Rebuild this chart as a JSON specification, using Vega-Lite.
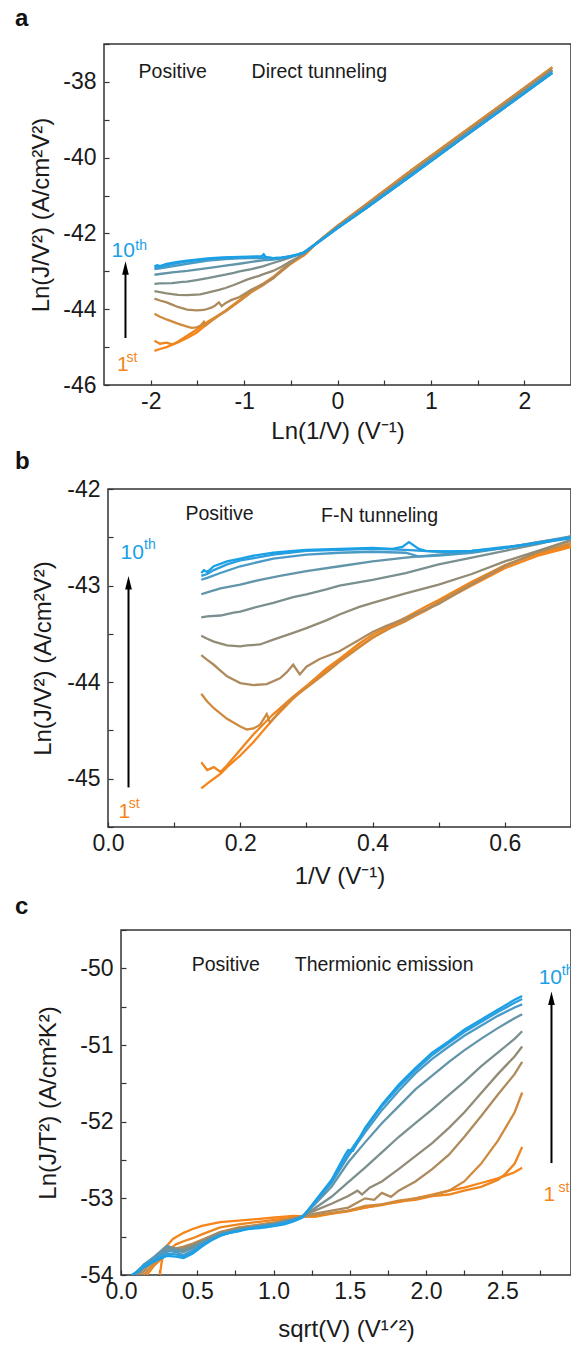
{
"$schema": "https://vega.github.io/schema/vega-lite/v6.json",
"padding": {"left": 13, "top": 6, "right": 0, "bottom": 0},
"config": {
  "font": "Liberation Sans",
  "view": {"stroke": "#333333", "strokeWidth": 1.5},
  "axis": {"grid": false, "domain": false, "ticks": true, "tickSize": -5, "tickWidth": 1.2, "tickColor": "#333333", "labelFontSize": 23, "titleFontSize": 24, "titleFontWeight": "normal", "labelColor": "#1a1a1a", "titleColor": "#1a1a1a", "labelFlush": false, "labelOverlap": false, "labelPadding": 13, "titlePadding": 8},
  "axisX": {"labelPadding": 10, "titlePadding": 6},
  "title": {"fontSize": 24, "fontWeight": "bold", "anchor": "start", "frame": "group", "color": "#111111"},
  "line": {"strokeWidth": 2.3, "clip": true}
},
"datasets": {
"A": [
{"c":1,"x":-1.96,"y":-45.10},{"c":1,"x":-1.90,"y":-45.05},{"c":1,"x":-1.83,"y":-45.00},{"c":1,"x":-1.71,"y":-44.88},{"c":1,"x":-1.61,"y":-44.76},{"c":1,"x":-1.51,"y":-44.62},{"c":1,"x":-1.39,"y":-44.38},{"c":1,"x":-1.27,"y":-44.17},{"c":1,"x":-1.20,"y":-44.05},{"c":1,"x":-1.05,"y":-43.78},{"c":1,"x":-0.92,"y":-43.54},{"c":1,"x":-0.80,"y":-43.36},{"c":1,"x":-0.69,"y":-43.18},{"c":1,"x":-0.60,"y":-43.00},{"c":1,"x":-0.51,"y":-42.82},{"c":1,"x":-0.43,"y":-42.69},{"c":1,"x":-0.36,"y":-42.58},{"c":1,"x":-0.2,"y":-42.2},{"c":1,"x":0,"y":-41.8},{"c":1,"x":0.3,"y":-41.25},{"c":1,"x":0.8,"y":-40.32},{"c":1,"x":1.3,"y":-39.42},{"c":1,"x":1.8,"y":-38.52},{"c":1,"x":2.3,"y":-37.62},
{"c":2,"x":-1.96,"y":-44.83},{"c":2,"x":-1.90,"y":-44.91},{"c":2,"x":-1.83,"y":-44.88},{"c":2,"x":-1.77,"y":-44.93},{"c":2,"x":-1.71,"y":-44.86},{"c":2,"x":-1.61,"y":-44.70},{"c":2,"x":-1.51,"y":-44.54},{"c":2,"x":-1.39,"y":-44.33},{"c":2,"x":-1.27,"y":-44.15},{"c":2,"x":-1.20,"y":-44.04},{"c":2,"x":-1.05,"y":-43.76},{"c":2,"x":-0.92,"y":-43.51},{"c":2,"x":-0.80,"y":-43.33},{"c":2,"x":-0.69,"y":-43.15},{"c":2,"x":-0.60,"y":-42.96},{"c":2,"x":-0.51,"y":-42.79},{"c":2,"x":-0.43,"y":-42.67},{"c":2,"x":-0.36,"y":-42.58},{"c":2,"x":-0.2,"y":-42.2},{"c":2,"x":0,"y":-41.8},{"c":2,"x":0.3,"y":-41.25},{"c":2,"x":0.8,"y":-40.32},{"c":2,"x":1.3,"y":-39.42},{"c":2,"x":1.8,"y":-38.52},{"c":2,"x":2.3,"y":-37.62},
{"c":3,"x":-1.96,"y":-44.12},{"c":3,"x":-1.90,"y":-44.20},{"c":3,"x":-1.83,"y":-44.27},{"c":3,"x":-1.71,"y":-44.38},{"c":3,"x":-1.61,"y":-44.46},{"c":3,"x":-1.56,"y":-44.49},{"c":3,"x":-1.51,"y":-44.48},{"c":3,"x":-1.47,"y":-44.44},{"c":3,"x":-1.43,"y":-44.33},{"c":3,"x":-1.41,"y":-44.42},{"c":3,"x":-1.35,"y":-44.30},{"c":3,"x":-1.27,"y":-44.16},{"c":3,"x":-1.20,"y":-44.06},{"c":3,"x":-1.11,"y":-43.90},{"c":3,"x":-1.05,"y":-43.79},{"c":3,"x":-0.97,"y":-43.64},{"c":3,"x":-0.92,"y":-43.54},{"c":3,"x":-0.84,"y":-43.43},{"c":3,"x":-0.80,"y":-43.37},{"c":3,"x":-0.69,"y":-43.17},{"c":3,"x":-0.60,"y":-42.98},{"c":3,"x":-0.51,"y":-42.79},{"c":3,"x":-0.43,"y":-42.66},{"c":3,"x":-0.36,"y":-42.56},{"c":3,"x":-0.2,"y":-42.2},{"c":3,"x":0,"y":-41.8},{"c":3,"x":0.3,"y":-41.25},{"c":3,"x":0.8,"y":-40.32},{"c":3,"x":1.3,"y":-39.42},{"c":3,"x":1.8,"y":-38.52},{"c":3,"x":2.3,"y":-37.62},
{"c":4,"x":-1.96,"y":-43.72},{"c":4,"x":-1.90,"y":-43.77},{"c":4,"x":-1.83,"y":-43.82},{"c":4,"x":-1.77,"y":-43.88},{"c":4,"x":-1.71,"y":-43.94},{"c":4,"x":-1.61,"y":-44.01},{"c":4,"x":-1.51,"y":-44.03},{"c":4,"x":-1.43,"y":-44.02},{"c":4,"x":-1.35,"y":-43.96},{"c":4,"x":-1.31,"y":-43.90},{"c":4,"x":-1.27,"y":-43.82},{"c":4,"x":-1.24,"y":-43.92},{"c":4,"x":-1.20,"y":-43.84},{"c":4,"x":-1.14,"y":-43.76},{"c":4,"x":-1.05,"y":-43.68},{"c":4,"x":-0.97,"y":-43.56},{"c":4,"x":-0.92,"y":-43.48},{"c":4,"x":-0.87,"y":-43.42},{"c":4,"x":-0.80,"y":-43.34},{"c":4,"x":-0.69,"y":-43.19},{"c":4,"x":-0.60,"y":-42.99},{"c":4,"x":-0.51,"y":-42.80},{"c":4,"x":-0.43,"y":-42.65},{"c":4,"x":-0.36,"y":-42.53},{"c":4,"x":-0.2,"y":-42.21},{"c":4,"x":0,"y":-41.83},{"c":4,"x":0.3,"y":-41.3},{"c":4,"x":0.8,"y":-40.39},{"c":4,"x":1.3,"y":-39.49},{"c":4,"x":1.8,"y":-38.59},{"c":4,"x":2.3,"y":-37.69},
{"c":5,"x":-1.96,"y":-43.52},{"c":5,"x":-1.90,"y":-43.55},{"c":5,"x":-1.83,"y":-43.58},{"c":5,"x":-1.71,"y":-43.62},{"c":5,"x":-1.61,"y":-43.63},{"c":5,"x":-1.56,"y":-43.62},{"c":5,"x":-1.47,"y":-43.61},{"c":5,"x":-1.39,"y":-43.56},{"c":5,"x":-1.27,"y":-43.49},{"c":5,"x":-1.20,"y":-43.44},{"c":5,"x":-1.11,"y":-43.36},{"c":5,"x":-1.05,"y":-43.30},{"c":5,"x":-0.97,"y":-43.22},{"c":5,"x":-0.92,"y":-43.18},{"c":5,"x":-0.84,"y":-43.12},{"c":5,"x":-0.80,"y":-43.08},{"c":5,"x":-0.69,"y":-42.99},{"c":5,"x":-0.60,"y":-42.88},{"c":5,"x":-0.51,"y":-42.75},{"c":5,"x":-0.43,"y":-42.64},{"c":5,"x":-0.36,"y":-42.53},{"c":5,"x":-0.2,"y":-42.21},{"c":5,"x":0,"y":-41.83},{"c":5,"x":0.3,"y":-41.3},{"c":5,"x":0.8,"y":-40.39},{"c":5,"x":1.3,"y":-39.49},{"c":5,"x":1.8,"y":-38.59},{"c":5,"x":2.3,"y":-37.69},
{"c":6,"x":-1.96,"y":-43.33},{"c":6,"x":-1.90,"y":-43.32},{"c":6,"x":-1.77,"y":-43.31},{"c":6,"x":-1.66,"y":-43.28},{"c":6,"x":-1.61,"y":-43.27},{"c":6,"x":-1.51,"y":-43.23},{"c":6,"x":-1.39,"y":-43.18},{"c":6,"x":-1.27,"y":-43.12},{"c":6,"x":-1.20,"y":-43.09},{"c":6,"x":-1.11,"y":-43.04},{"c":6,"x":-1.05,"y":-43.00},{"c":6,"x":-0.92,"y":-42.94},{"c":6,"x":-0.80,"y":-42.87},{"c":6,"x":-0.69,"y":-42.78},{"c":6,"x":-0.60,"y":-42.71},{"c":6,"x":-0.51,"y":-42.64},{"c":6,"x":-0.43,"y":-42.57},{"c":6,"x":-0.36,"y":-42.50},{"c":6,"x":-0.2,"y":-42.21},{"c":6,"x":0,"y":-41.83},{"c":6,"x":0.3,"y":-41.3},{"c":6,"x":0.8,"y":-40.39},{"c":6,"x":1.3,"y":-39.49},{"c":6,"x":1.8,"y":-38.59},{"c":6,"x":2.3,"y":-37.69},
{"c":7,"x":-1.96,"y":-43.09},{"c":7,"x":-1.90,"y":-43.07},{"c":7,"x":-1.77,"y":-43.03},{"c":7,"x":-1.61,"y":-42.99},{"c":7,"x":-1.47,"y":-42.94},{"c":7,"x":-1.35,"y":-42.90},{"c":7,"x":-1.20,"y":-42.85},{"c":7,"x":-1.05,"y":-42.80},{"c":7,"x":-0.92,"y":-42.75},{"c":7,"x":-0.80,"y":-42.71},{"c":7,"x":-0.69,"y":-42.68},{"c":7,"x":-0.60,"y":-42.65},{"c":7,"x":-0.51,"y":-42.61},{"c":7,"x":-0.43,"y":-42.56},{"c":7,"x":-0.36,"y":-42.51},{"c":7,"x":-0.2,"y":-42.22},{"c":7,"x":0,"y":-41.86},{"c":7,"x":0.3,"y":-41.34},{"c":7,"x":0.8,"y":-40.45},{"c":7,"x":1.3,"y":-39.55},{"c":7,"x":1.8,"y":-38.66},{"c":7,"x":2.3,"y":-37.76},
{"c":8,"x":-1.96,"y":-42.94},{"c":8,"x":-1.90,"y":-42.92},{"c":8,"x":-1.77,"y":-42.87},{"c":8,"x":-1.61,"y":-42.80},{"c":8,"x":-1.39,"y":-42.72},{"c":8,"x":-1.20,"y":-42.68},{"c":8,"x":-1.05,"y":-42.66},{"c":8,"x":-0.92,"y":-42.65},{"c":8,"x":-0.80,"y":-42.66},{"c":8,"x":-0.76,"y":-42.70},{"c":8,"x":-0.69,"y":-42.69},{"c":8,"x":-0.60,"y":-42.66},{"c":8,"x":-0.51,"y":-42.61},{"c":8,"x":-0.43,"y":-42.56},{"c":8,"x":-0.36,"y":-42.51},{"c":8,"x":-0.2,"y":-42.22},{"c":8,"x":0,"y":-41.86},{"c":8,"x":0.3,"y":-41.34},{"c":8,"x":0.8,"y":-40.45},{"c":8,"x":1.3,"y":-39.55},{"c":8,"x":1.8,"y":-38.66},{"c":8,"x":2.3,"y":-37.76},
{"c":9,"x":-1.96,"y":-42.90},{"c":9,"x":-1.90,"y":-42.88},{"c":9,"x":-1.83,"y":-42.84},{"c":9,"x":-1.71,"y":-42.78},{"c":9,"x":-1.61,"y":-42.74},{"c":9,"x":-1.39,"y":-42.68},{"c":9,"x":-1.20,"y":-42.64},{"c":9,"x":-1.05,"y":-42.63},{"c":9,"x":-0.92,"y":-42.62},{"c":9,"x":-0.80,"y":-42.63},{"c":9,"x":-0.69,"y":-42.65},{"c":9,"x":-0.60,"y":-42.64},{"c":9,"x":-0.51,"y":-42.60},{"c":9,"x":-0.43,"y":-42.56},{"c":9,"x":-0.36,"y":-42.51},{"c":9,"x":-0.2,"y":-42.22},{"c":9,"x":0,"y":-41.86},{"c":9,"x":0.3,"y":-41.34},{"c":9,"x":0.8,"y":-40.45},{"c":9,"x":1.3,"y":-39.55},{"c":9,"x":1.8,"y":-38.66},{"c":9,"x":2.3,"y":-37.76},
{"c":10,"x":-1.96,"y":-42.87},{"c":10,"x":-1.93,"y":-42.84},{"c":10,"x":-1.90,"y":-42.86},{"c":10,"x":-1.83,"y":-42.80},{"c":10,"x":-1.71,"y":-42.75},{"c":10,"x":-1.61,"y":-42.72},{"c":10,"x":-1.51,"y":-42.69},{"c":10,"x":-1.39,"y":-42.66},{"c":10,"x":-1.27,"y":-42.64},{"c":10,"x":-1.20,"y":-42.63},{"c":10,"x":-1.05,"y":-42.62},{"c":10,"x":-0.92,"y":-42.61},{"c":10,"x":-0.81,"y":-42.60},{"c":10,"x":-0.79,"y":-42.55},{"c":10,"x":-0.77,"y":-42.62},{"c":10,"x":-0.69,"y":-42.65},{"c":10,"x":-0.60,"y":-42.64},{"c":10,"x":-0.51,"y":-42.61},{"c":10,"x":-0.43,"y":-42.56},{"c":10,"x":-0.36,"y":-42.50},{"c":10,"x":-0.2,"y":-42.22},{"c":10,"x":0,"y":-41.86},{"c":10,"x":0.3,"y":-41.34},{"c":10,"x":0.8,"y":-40.45},{"c":10,"x":1.3,"y":-39.55},{"c":10,"x":1.8,"y":-38.66},{"c":10,"x":2.3,"y":-37.76}
],
"B": [
{"c":1,"x":0.141,"y":-45.10},{"c":1,"x":0.15,"y":-45.05},{"c":1,"x":0.16,"y":-45.00},{"c":1,"x":0.17,"y":-44.95},{"c":1,"x":0.18,"y":-44.88},{"c":1,"x":0.2,"y":-44.76},{"c":1,"x":0.22,"y":-44.62},{"c":1,"x":0.25,"y":-44.38},{"c":1,"x":0.28,"y":-44.17},{"c":1,"x":0.3,"y":-44.05},{"c":1,"x":0.33,"y":-43.88},{"c":1,"x":0.35,"y":-43.78},{"c":1,"x":0.38,"y":-43.63},{"c":1,"x":0.4,"y":-43.54},{"c":1,"x":0.43,"y":-43.42},{"c":1,"x":0.45,"y":-43.36},{"c":1,"x":0.48,"y":-43.26},{"c":1,"x":0.5,"y":-43.18},{"c":1,"x":0.55,"y":-43.00},{"c":1,"x":0.6,"y":-42.82},{"c":1,"x":0.65,"y":-42.69},{"c":1,"x":0.7,"y":-42.60},
{"c":2,"x":0.141,"y":-44.83},{"c":2,"x":0.15,"y":-44.91},{"c":2,"x":0.16,"y":-44.88},{"c":2,"x":0.17,"y":-44.93},{"c":2,"x":0.18,"y":-44.86},{"c":2,"x":0.19,"y":-44.78},{"c":2,"x":0.2,"y":-44.70},{"c":2,"x":0.22,"y":-44.54},{"c":2,"x":0.25,"y":-44.33},{"c":2,"x":0.28,"y":-44.15},{"c":2,"x":0.3,"y":-44.04},{"c":2,"x":0.33,"y":-43.86},{"c":2,"x":0.35,"y":-43.76},{"c":2,"x":0.38,"y":-43.60},{"c":2,"x":0.4,"y":-43.51},{"c":2,"x":0.43,"y":-43.40},{"c":2,"x":0.45,"y":-43.33},{"c":2,"x":0.48,"y":-43.22},{"c":2,"x":0.5,"y":-43.15},{"c":2,"x":0.55,"y":-42.96},{"c":2,"x":0.6,"y":-42.79},{"c":2,"x":0.65,"y":-42.67},{"c":2,"x":0.7,"y":-42.58},
{"c":3,"x":0.141,"y":-44.12},{"c":3,"x":0.15,"y":-44.20},{"c":3,"x":0.16,"y":-44.27},{"c":3,"x":0.18,"y":-44.38},{"c":3,"x":0.2,"y":-44.46},{"c":3,"x":0.21,"y":-44.49},{"c":3,"x":0.22,"y":-44.48},{"c":3,"x":0.23,"y":-44.44},{"c":3,"x":0.24,"y":-44.33},{"c":3,"x":0.245,"y":-44.42},{"c":3,"x":0.26,"y":-44.30},{"c":3,"x":0.28,"y":-44.16},{"c":3,"x":0.3,"y":-44.06},{"c":3,"x":0.33,"y":-43.90},{"c":3,"x":0.35,"y":-43.79},{"c":3,"x":0.38,"y":-43.64},{"c":3,"x":0.4,"y":-43.54},{"c":3,"x":0.43,"y":-43.43},{"c":3,"x":0.45,"y":-43.37},{"c":3,"x":0.5,"y":-43.17},{"c":3,"x":0.55,"y":-42.98},{"c":3,"x":0.6,"y":-42.79},{"c":3,"x":0.65,"y":-42.66},{"c":3,"x":0.7,"y":-42.56},
{"c":4,"x":0.141,"y":-43.72},{"c":4,"x":0.15,"y":-43.77},{"c":4,"x":0.16,"y":-43.82},{"c":4,"x":0.17,"y":-43.88},{"c":4,"x":0.18,"y":-43.94},{"c":4,"x":0.2,"y":-44.01},{"c":4,"x":0.22,"y":-44.03},{"c":4,"x":0.24,"y":-44.02},{"c":4,"x":0.26,"y":-43.96},{"c":4,"x":0.27,"y":-43.90},{"c":4,"x":0.28,"y":-43.82},{"c":4,"x":0.29,"y":-43.92},{"c":4,"x":0.3,"y":-43.84},{"c":4,"x":0.32,"y":-43.76},{"c":4,"x":0.35,"y":-43.68},{"c":4,"x":0.38,"y":-43.56},{"c":4,"x":0.4,"y":-43.48},{"c":4,"x":0.42,"y":-43.42},{"c":4,"x":0.45,"y":-43.34},{"c":4,"x":0.5,"y":-43.19},{"c":4,"x":0.55,"y":-42.99},{"c":4,"x":0.6,"y":-42.80},{"c":4,"x":0.65,"y":-42.65},{"c":4,"x":0.7,"y":-42.53},
{"c":5,"x":0.141,"y":-43.52},{"c":5,"x":0.15,"y":-43.55},{"c":5,"x":0.16,"y":-43.58},{"c":5,"x":0.18,"y":-43.62},{"c":5,"x":0.2,"y":-43.63},{"c":5,"x":0.21,"y":-43.62},{"c":5,"x":0.23,"y":-43.61},{"c":5,"x":0.25,"y":-43.56},{"c":5,"x":0.28,"y":-43.49},{"c":5,"x":0.3,"y":-43.44},{"c":5,"x":0.33,"y":-43.36},{"c":5,"x":0.35,"y":-43.30},{"c":5,"x":0.38,"y":-43.22},{"c":5,"x":0.4,"y":-43.18},{"c":5,"x":0.43,"y":-43.12},{"c":5,"x":0.45,"y":-43.08},{"c":5,"x":0.5,"y":-42.99},{"c":5,"x":0.55,"y":-42.88},{"c":5,"x":0.6,"y":-42.75},{"c":5,"x":0.65,"y":-42.64},{"c":5,"x":0.7,"y":-42.53},
{"c":6,"x":0.141,"y":-43.33},{"c":6,"x":0.15,"y":-43.32},{"c":6,"x":0.17,"y":-43.31},{"c":6,"x":0.19,"y":-43.28},{"c":6,"x":0.2,"y":-43.27},{"c":6,"x":0.22,"y":-43.23},{"c":6,"x":0.25,"y":-43.18},{"c":6,"x":0.28,"y":-43.12},{"c":6,"x":0.3,"y":-43.09},{"c":6,"x":0.33,"y":-43.04},{"c":6,"x":0.35,"y":-43.00},{"c":6,"x":0.4,"y":-42.94},{"c":6,"x":0.45,"y":-42.87},{"c":6,"x":0.5,"y":-42.78},{"c":6,"x":0.55,"y":-42.71},{"c":6,"x":0.6,"y":-42.64},{"c":6,"x":0.65,"y":-42.57},{"c":6,"x":0.7,"y":-42.49},
{"c":7,"x":0.141,"y":-43.09},{"c":7,"x":0.15,"y":-43.07},{"c":7,"x":0.17,"y":-43.03},{"c":7,"x":0.2,"y":-42.99},{"c":7,"x":0.23,"y":-42.94},{"c":7,"x":0.26,"y":-42.90},{"c":7,"x":0.3,"y":-42.85},{"c":7,"x":0.35,"y":-42.80},{"c":7,"x":0.4,"y":-42.75},{"c":7,"x":0.45,"y":-42.71},{"c":7,"x":0.5,"y":-42.68},{"c":7,"x":0.55,"y":-42.65},{"c":7,"x":0.6,"y":-42.61},{"c":7,"x":0.65,"y":-42.55},{"c":7,"x":0.7,"y":-42.49},
{"c":8,"x":0.141,"y":-42.94},{"c":8,"x":0.15,"y":-42.92},{"c":8,"x":0.17,"y":-42.87},{"c":8,"x":0.2,"y":-42.80},{"c":8,"x":0.25,"y":-42.72},{"c":8,"x":0.3,"y":-42.68},{"c":8,"x":0.35,"y":-42.66},{"c":8,"x":0.4,"y":-42.65},{"c":8,"x":0.45,"y":-42.66},{"c":8,"x":0.47,"y":-42.70},{"c":8,"x":0.5,"y":-42.69},{"c":8,"x":0.55,"y":-42.66},{"c":8,"x":0.6,"y":-42.61},{"c":8,"x":0.65,"y":-42.55},{"c":8,"x":0.7,"y":-42.50},
{"c":9,"x":0.141,"y":-42.90},{"c":9,"x":0.15,"y":-42.88},{"c":9,"x":0.16,"y":-42.84},{"c":9,"x":0.18,"y":-42.78},{"c":9,"x":0.2,"y":-42.74},{"c":9,"x":0.25,"y":-42.68},{"c":9,"x":0.3,"y":-42.64},{"c":9,"x":0.35,"y":-42.63},{"c":9,"x":0.4,"y":-42.62},{"c":9,"x":0.45,"y":-42.63},{"c":9,"x":0.5,"y":-42.65},{"c":9,"x":0.55,"y":-42.64},{"c":9,"x":0.6,"y":-42.60},{"c":9,"x":0.65,"y":-42.56},{"c":9,"x":0.7,"y":-42.51},
{"c":10,"x":0.141,"y":-42.87},{"c":10,"x":0.145,"y":-42.84},{"c":10,"x":0.15,"y":-42.86},{"c":10,"x":0.16,"y":-42.80},{"c":10,"x":0.18,"y":-42.75},{"c":10,"x":0.2,"y":-42.72},{"c":10,"x":0.22,"y":-42.69},{"c":10,"x":0.25,"y":-42.66},{"c":10,"x":0.28,"y":-42.64},{"c":10,"x":0.3,"y":-42.63},{"c":10,"x":0.35,"y":-42.62},{"c":10,"x":0.4,"y":-42.61},{"c":10,"x":0.43,"y":-42.62},{"c":10,"x":0.445,"y":-42.60},{"c":10,"x":0.455,"y":-42.55},{"c":10,"x":0.47,"y":-42.62},{"c":10,"x":0.48,"y":-42.64},{"c":10,"x":0.52,"y":-42.65},{"c":10,"x":0.55,"y":-42.64},{"c":10,"x":0.6,"y":-42.61},{"c":10,"x":0.65,"y":-42.56},{"c":10,"x":0.7,"y":-42.50}
],
"C": [
{"c":1,"x":0.255,"y":-54.0},{"c":1,"x":0.265,"y":-53.85},{"c":1,"x":0.28,"y":-53.7},{"c":1,"x":0.3,"y":-53.62},{"c":1,"x":0.34,"y":-53.53},{"c":1,"x":0.41,"y":-53.45},{"c":1,"x":0.47,"y":-53.4},{"c":1,"x":0.53,"y":-53.36},{"c":1,"x":0.65,"y":-53.31},{"c":1,"x":0.77,"y":-53.29},{"c":1,"x":0.89,"y":-53.27},{"c":1,"x":1.01,"y":-53.25},{"c":1,"x":1.13,"y":-53.23},{"c":1,"x":1.27,"y":-53.24},{"c":1,"x":1.38,"y":-53.2},{"c":1,"x":1.49,"y":-53.16},{"c":1,"x":1.6,"y":-53.12},{"c":1,"x":1.71,"y":-53.08},{"c":1,"x":1.82,"y":-53.05},{"c":1,"x":1.93,"y":-53.0},{"c":1,"x":2.04,"y":-52.95},{"c":1,"x":2.15,"y":-52.9},{"c":1,"x":2.25,"y":-52.86},{"c":1,"x":2.36,"y":-52.8},{"c":1,"x":2.47,"y":-52.74},{"c":1,"x":2.58,"y":-52.66},{"c":1,"x":2.63,"y":-52.6},
{"c":2,"x":0.17,"y":-54.0},{"c":2,"x":0.22,"y":-53.87},{"c":2,"x":0.27,"y":-53.78},{"c":2,"x":0.31,"y":-53.68},{"c":2,"x":0.36,"y":-53.6},{"c":2,"x":0.41,"y":-53.56},{"c":2,"x":0.47,"y":-53.52},{"c":2,"x":0.53,"y":-53.47},{"c":2,"x":0.65,"y":-53.38},{"c":2,"x":0.77,"y":-53.34},{"c":2,"x":0.89,"y":-53.31},{"c":2,"x":1.01,"y":-53.28},{"c":2,"x":1.13,"y":-53.25},{"c":2,"x":1.27,"y":-53.23},{"c":2,"x":1.38,"y":-53.2},{"c":2,"x":1.49,"y":-53.17},{"c":2,"x":1.6,"y":-53.12},{"c":2,"x":1.71,"y":-53.09},{"c":2,"x":1.82,"y":-53.04},{"c":2,"x":1.93,"y":-53.02},{"c":2,"x":2.04,"y":-52.97},{"c":2,"x":2.15,"y":-52.95},{"c":2,"x":2.25,"y":-52.9},{"c":2,"x":2.36,"y":-52.85},{"c":2,"x":2.47,"y":-52.76},{"c":2,"x":2.52,"y":-52.68},{"c":2,"x":2.58,"y":-52.55},{"c":2,"x":2.63,"y":-52.33},
{"c":3,"x":0.15,"y":-54.0},{"c":3,"x":0.2,"y":-53.88},{"c":3,"x":0.25,"y":-53.79},{"c":3,"x":0.3,"y":-53.7},{"c":3,"x":0.36,"y":-53.66},{"c":3,"x":0.41,"y":-53.63},{"c":3,"x":0.47,"y":-53.59},{"c":3,"x":0.53,"y":-53.54},{"c":3,"x":0.65,"y":-53.44},{"c":3,"x":0.77,"y":-53.38},{"c":3,"x":0.89,"y":-53.35},{"c":3,"x":1.01,"y":-53.31},{"c":3,"x":1.13,"y":-53.26},{"c":3,"x":1.27,"y":-53.22},{"c":3,"x":1.38,"y":-53.19},{"c":3,"x":1.49,"y":-53.16},{"c":3,"x":1.6,"y":-53.1},{"c":3,"x":1.71,"y":-53.08},{"c":3,"x":1.82,"y":-53.03},{"c":3,"x":1.93,"y":-53.0},{"c":3,"x":2.04,"y":-52.96},{"c":3,"x":2.15,"y":-52.9},{"c":3,"x":2.25,"y":-52.78},{"c":3,"x":2.36,"y":-52.55},{"c":3,"x":2.47,"y":-52.25},{"c":3,"x":2.58,"y":-51.88},{"c":3,"x":2.63,"y":-51.62},
{"c":4,"x":0.13,"y":-54.0},{"c":4,"x":0.18,"y":-53.88},{"c":4,"x":0.24,"y":-53.77},{"c":4,"x":0.3,"y":-53.68},{"c":4,"x":0.36,"y":-53.65},{"c":4,"x":0.41,"y":-53.64},{"c":4,"x":0.47,"y":-53.6},{"c":4,"x":0.53,"y":-53.55},{"c":4,"x":0.65,"y":-53.44},{"c":4,"x":0.77,"y":-53.39},{"c":4,"x":0.89,"y":-53.35},{"c":4,"x":1.01,"y":-53.32},{"c":4,"x":1.13,"y":-53.27},{"c":4,"x":1.27,"y":-53.2},{"c":4,"x":1.38,"y":-53.16},{"c":4,"x":1.49,"y":-53.12},{"c":4,"x":1.6,"y":-53.0},{"c":4,"x":1.66,"y":-53.02},{"c":4,"x":1.71,"y":-52.93},{"c":4,"x":1.77,"y":-52.98},{"c":4,"x":1.82,"y":-52.9},{"c":4,"x":1.93,"y":-52.78},{"c":4,"x":2.04,"y":-52.62},{"c":4,"x":2.15,"y":-52.43},{"c":4,"x":2.25,"y":-52.2},{"c":4,"x":2.36,"y":-51.93},{"c":4,"x":2.47,"y":-51.65},{"c":4,"x":2.58,"y":-51.38},{"c":4,"x":2.63,"y":-51.22},
{"c":5,"x":0.11,"y":-54.0},{"c":5,"x":0.17,"y":-53.86},{"c":5,"x":0.23,"y":-53.76},{"c":5,"x":0.3,"y":-53.65},{"c":5,"x":0.36,"y":-53.66},{"c":5,"x":0.41,"y":-53.66},{"c":5,"x":0.47,"y":-53.61},{"c":5,"x":0.53,"y":-53.56},{"c":5,"x":0.65,"y":-53.45},{"c":5,"x":0.77,"y":-53.4},{"c":5,"x":0.89,"y":-53.36},{"c":5,"x":1.01,"y":-53.33},{"c":5,"x":1.13,"y":-53.27},{"c":5,"x":1.19,"y":-53.23},{"c":5,"x":1.27,"y":-53.16},{"c":5,"x":1.38,"y":-53.07},{"c":5,"x":1.49,"y":-52.97},{"c":5,"x":1.55,"y":-52.9},{"c":5,"x":1.58,"y":-52.95},{"c":5,"x":1.63,"y":-52.86},{"c":5,"x":1.71,"y":-52.78},{"c":5,"x":1.82,"y":-52.62},{"c":5,"x":1.93,"y":-52.45},{"c":5,"x":2.04,"y":-52.28},{"c":5,"x":2.15,"y":-52.08},{"c":5,"x":2.25,"y":-51.88},{"c":5,"x":2.36,"y":-51.63},{"c":5,"x":2.47,"y":-51.38},{"c":5,"x":2.58,"y":-51.15},{"c":5,"x":2.63,"y":-51.02},
{"c":6,"x":0.1,"y":-54.0},{"c":6,"x":0.16,"y":-53.86},{"c":6,"x":0.22,"y":-53.76},{"c":6,"x":0.3,"y":-53.62},{"c":6,"x":0.36,"y":-53.66},{"c":6,"x":0.41,"y":-53.68},{"c":6,"x":0.47,"y":-53.63},{"c":6,"x":0.53,"y":-53.57},{"c":6,"x":0.65,"y":-53.46},{"c":6,"x":0.77,"y":-53.41},{"c":6,"x":0.89,"y":-53.37},{"c":6,"x":1.01,"y":-53.33},{"c":6,"x":1.13,"y":-53.27},{"c":6,"x":1.19,"y":-53.23},{"c":6,"x":1.27,"y":-53.13},{"c":6,"x":1.38,"y":-52.98},{"c":6,"x":1.49,"y":-52.79},{"c":6,"x":1.6,"y":-52.6},{"c":6,"x":1.71,"y":-52.4},{"c":6,"x":1.82,"y":-52.2},{"c":6,"x":1.93,"y":-52.02},{"c":6,"x":2.04,"y":-51.84},{"c":6,"x":2.15,"y":-51.65},{"c":6,"x":2.25,"y":-51.48},{"c":6,"x":2.36,"y":-51.28},{"c":6,"x":2.47,"y":-51.1},{"c":6,"x":2.58,"y":-50.92},{"c":6,"x":2.63,"y":-50.82},
{"c":7,"x":0.09,"y":-54.0},{"c":7,"x":0.15,"y":-53.86},{"c":7,"x":0.22,"y":-53.76},{"c":7,"x":0.3,"y":-53.63},{"c":7,"x":0.36,"y":-53.68},{"c":7,"x":0.41,"y":-53.7},{"c":7,"x":0.47,"y":-53.65},{"c":7,"x":0.53,"y":-53.58},{"c":7,"x":0.65,"y":-53.47},{"c":7,"x":0.77,"y":-53.41},{"c":7,"x":0.89,"y":-53.37},{"c":7,"x":1.01,"y":-53.34},{"c":7,"x":1.13,"y":-53.28},{"c":7,"x":1.19,"y":-53.23},{"c":7,"x":1.27,"y":-53.08},{"c":7,"x":1.38,"y":-52.85},{"c":7,"x":1.49,"y":-52.53},{"c":7,"x":1.6,"y":-52.27},{"c":7,"x":1.71,"y":-52.02},{"c":7,"x":1.82,"y":-51.8},{"c":7,"x":1.93,"y":-51.58},{"c":7,"x":2.04,"y":-51.4},{"c":7,"x":2.15,"y":-51.22},{"c":7,"x":2.25,"y":-51.07},{"c":7,"x":2.36,"y":-50.92},{"c":7,"x":2.47,"y":-50.78},{"c":7,"x":2.58,"y":-50.65},{"c":7,"x":2.63,"y":-50.6},
{"c":8,"x":0.08,"y":-54.0},{"c":8,"x":0.15,"y":-53.87},{"c":8,"x":0.22,"y":-53.78},{"c":8,"x":0.3,"y":-53.68},{"c":8,"x":0.36,"y":-53.7},{"c":8,"x":0.41,"y":-53.74},{"c":8,"x":0.47,"y":-53.68},{"c":8,"x":0.53,"y":-53.6},{"c":8,"x":0.65,"y":-53.48},{"c":8,"x":0.77,"y":-53.42},{"c":8,"x":0.89,"y":-53.37},{"c":8,"x":1.01,"y":-53.34},{"c":8,"x":1.13,"y":-53.28},{"c":8,"x":1.19,"y":-53.24},{"c":8,"x":1.27,"y":-53.06},{"c":8,"x":1.38,"y":-52.8},{"c":8,"x":1.49,"y":-52.45},{"c":8,"x":1.6,"y":-52.14},{"c":8,"x":1.71,"y":-51.85},{"c":8,"x":1.82,"y":-51.6},{"c":8,"x":1.93,"y":-51.37},{"c":8,"x":2.04,"y":-51.18},{"c":8,"x":2.15,"y":-51.02},{"c":8,"x":2.25,"y":-50.88},{"c":8,"x":2.36,"y":-50.75},{"c":8,"x":2.47,"y":-50.62},{"c":8,"x":2.58,"y":-50.51},{"c":8,"x":2.63,"y":-50.47},
{"c":9,"x":0.08,"y":-54.0},{"c":9,"x":0.15,"y":-53.88},{"c":9,"x":0.22,"y":-53.8},{"c":9,"x":0.3,"y":-53.72},{"c":9,"x":0.36,"y":-53.73},{"c":9,"x":0.41,"y":-53.76},{"c":9,"x":0.47,"y":-53.7},{"c":9,"x":0.53,"y":-53.61},{"c":9,"x":0.65,"y":-53.48},{"c":9,"x":0.77,"y":-53.42},{"c":9,"x":0.89,"y":-53.38},{"c":9,"x":1.01,"y":-53.35},{"c":9,"x":1.13,"y":-53.29},{"c":9,"x":1.19,"y":-53.24},{"c":9,"x":1.27,"y":-53.05},{"c":9,"x":1.38,"y":-52.78},{"c":9,"x":1.49,"y":-52.42},{"c":9,"x":1.6,"y":-52.1},{"c":9,"x":1.71,"y":-51.8},{"c":9,"x":1.82,"y":-51.55},{"c":9,"x":1.93,"y":-51.33},{"c":9,"x":2.04,"y":-51.13},{"c":9,"x":2.15,"y":-50.97},{"c":9,"x":2.25,"y":-50.83},{"c":9,"x":2.36,"y":-50.7},{"c":9,"x":2.47,"y":-50.57},{"c":9,"x":2.58,"y":-50.45},{"c":9,"x":2.63,"y":-50.4},
{"c":10,"x":0.07,"y":-54.0},{"c":10,"x":0.15,"y":-53.9},{"c":10,"x":0.22,"y":-53.82},{"c":10,"x":0.3,"y":-53.75},{"c":10,"x":0.36,"y":-53.76},{"c":10,"x":0.41,"y":-53.78},{"c":10,"x":0.47,"y":-53.72},{"c":10,"x":0.53,"y":-53.63},{"c":10,"x":0.59,"y":-53.55},{"c":10,"x":0.65,"y":-53.49},{"c":10,"x":0.71,"y":-53.45},{"c":10,"x":0.77,"y":-53.43},{"c":10,"x":0.83,"y":-53.4},{"c":10,"x":0.89,"y":-53.39},{"c":10,"x":0.95,"y":-53.38},{"c":10,"x":1.01,"y":-53.36},{"c":10,"x":1.07,"y":-53.34},{"c":10,"x":1.13,"y":-53.3},{"c":10,"x":1.19,"y":-53.25},{"c":10,"x":1.27,"y":-53.04},{"c":10,"x":1.38,"y":-52.76},{"c":10,"x":1.47,"y":-52.43},{"c":10,"x":1.49,"y":-52.37},{"c":10,"x":1.52,"y":-52.38},{"c":10,"x":1.6,"y":-52.08},{"c":10,"x":1.71,"y":-51.78},{"c":10,"x":1.82,"y":-51.52},{"c":10,"x":1.93,"y":-51.3},{"c":10,"x":2.04,"y":-51.1},{"c":10,"x":2.15,"y":-50.95},{"c":10,"x":2.25,"y":-50.8},{"c":10,"x":2.36,"y":-50.67},{"c":10,"x":2.47,"y":-50.54},{"c":10,"x":2.58,"y":-50.41},{"c":10,"x":2.63,"y":-50.36}
]
},
"vconcat": [
{
  "hconcat": [
    {"width": 1, "height": 1, "data": {"values": [{"t": ""}]}, "mark": "text", "encoding": {"text": {"field": "t"}}, "view": {"stroke": null}},
    {
      "width": 467, "height": 341,
      "title": {"text": "a", "dx": -89, "offset": 2},
      "encoding": {
        "x": {"field": "x", "type": "quantitative", "scale": {"domain": [-2.5, 2.5], "nice": false, "zero": false},
              "axis": {"title": "Ln(1/V) (V⁻¹)", "values": [-2, -1.5, -1, -0.5, 0, 0.5, 1, 1.5, 2], "labelExpr": "datum.value === round(datum.value) ? '' + datum.value : ''"}},
        "y": {"field": "y", "type": "quantitative", "scale": {"domain": [-46, -37], "nice": false, "zero": false},
              "axis": {"title": "Ln(J/V²) (A/cm²V²)", "titlePadding": 9, "values": [-46, -45, -44, -43, -42, -41, -40, -39, -38, -37], "labelExpr": "datum.value % 2 === 0 ? '' + datum.value : ''"}}
      },
      "layer": [
        {"data": {"name": "A"}, "mark": {"type": "line", "strokeWidth": 2.3, "clip": true},
         "encoding": {"color": {"field": "c", "type": "ordinal", "scale": {"domain": [1,2,3,4,5,6,7,8,9,10], "range": ["#F7851A","#EE861F","#CF8A3E","#AE8B5E","#928C76","#7A9090","#6295AA","#4A9AC6","#2E9EDD","#1AA0E6"]}, "legend": null}}},
        {"data": {"values": [{"x": -2.13, "y": -37.74, "t": "Positive"}, {"x": -0.92, "y": -37.74, "t": "Direct tunneling"}]},
         "mark": {"type": "text", "align": "left", "baseline": "middle", "fontSize": 19.5, "color": "#1a1a1a"}, "encoding": {"text": {"field": "t"}}},
        {"data": {"values": [{"x": -2.42, "y": -42.47, "t": "10", "c": 10}, {"x": -2.36, "y": -45.46, "t": "1", "c": 1}]},
         "mark": {"type": "text", "align": "left", "baseline": "middle", "fontSize": 21},
         "encoding": {"text": {"field": "t"}, "color": {"field": "c", "type": "ordinal", "scale": {"domain": [1,2,3,4,5,6,7,8,9,10], "range": ["#F7851A","#EE861F","#CF8A3E","#AE8B5E","#928C76","#7A9090","#6295AA","#4A9AC6","#2E9EDD","#1AA0E6"]}, "legend": null}}},
        {"data": {"values": [{"x": -2.165, "y": -42.32, "t": "th", "c": 10}, {"x": -2.26, "y": -45.3, "t": "st", "c": 1}]},
         "mark": {"type": "text", "align": "left", "baseline": "middle", "fontSize": 14},
         "encoding": {"text": {"field": "t"}, "color": {"field": "c", "type": "ordinal", "scale": {"domain": [1,2,3,4,5,6,7,8,9,10], "range": ["#F7851A","#EE861F","#CF8A3E","#AE8B5E","#928C76","#7A9090","#6295AA","#4A9AC6","#2E9EDD","#1AA0E6"]}, "legend": null}}},
        {"data": {"values": [{"x": -2.27, "y": -44.76, "y2": -42.95}]}, "mark": {"type": "rule", "color": "#000000", "strokeWidth": 2}, "encoding": {"y2": {"field": "y2"}}},
        {"data": {"values": [{"x": -2.27, "y": -42.91}]}, "mark": {"type": "point", "shape": "M-0.5,1L0,-1L0.5,1Z", "filled": true, "color": "#000000", "size": 180, "opacity": 1}, "encoding": {}}
      ]
    }
  ],
  "spacing": 0
},
{
  "hconcat": [
    {"width": 1, "height": 1, "data": {"values": [{"t": ""}]}, "mark": "text", "encoding": {"text": {"field": "t"}}, "view": {"stroke": null}},
    {
      "width": 463, "height": 338,
      "title": {"text": "b", "dx": -93, "offset": 4},
      "encoding": {
        "x": {"field": "x", "type": "quantitative", "scale": {"domain": [0, 0.7], "nice": false, "zero": false},
              "axis": {"title": "1/V (V⁻¹)", "titlePadding": 9, "values": [0, 0.1, 0.2, 0.3, 0.4, 0.5, 0.6, 0.7], "labelExpr": "indexof([0, 0.2, 0.4, 0.6], datum.value) >= 0 ? format(datum.value, '.1f') : ''"}},
        "y": {"field": "y", "type": "quantitative", "scale": {"domain": [-45.5, -42], "nice": false, "zero": false},
              "axis": {"title": "Ln(J/V²) (A/cm²V²)", "titlePadding": 11, "values": [-45.5, -45, -44.5, -44, -43.5, -43, -42.5, -42], "labelExpr": "datum.value === round(datum.value) ? '' + datum.value : ''"}}
      },
      "layer": [
        {"data": {"name": "B"}, "mark": {"type": "line", "strokeWidth": 2.3, "clip": true},
         "encoding": {"color": {"field": "c", "type": "ordinal", "scale": {"domain": [1,2,3,4,5,6,7,8,9,10], "range": ["#F7851A","#EE861F","#CF8A3E","#AE8B5E","#928C76","#7A9090","#6295AA","#4A9AC6","#2E9EDD","#1AA0E6"]}, "legend": null}}},
        {"data": {"values": [{"x": 0.117, "y": -42.26, "t": "Positive"}, {"x": 0.322, "y": -42.28, "t": "F-N tunneling"}]},
         "mark": {"type": "text", "align": "left", "baseline": "middle", "fontSize": 19.5, "color": "#1a1a1a"}, "encoding": {"text": {"field": "t"}}},
        {"data": {"values": [{"x": 0.019, "y": -42.66, "t": "10", "c": 10}, {"x": 0.016, "y": -45.34, "t": "1", "c": 1}]},
         "mark": {"type": "text", "align": "left", "baseline": "middle", "fontSize": 21},
         "encoding": {"text": {"field": "t"}, "color": {"field": "c", "type": "ordinal", "scale": {"domain": [1,2,3,4,5,6,7,8,9,10], "range": ["#F7851A","#EE861F","#CF8A3E","#AE8B5E","#928C76","#7A9090","#6295AA","#4A9AC6","#2E9EDD","#1AA0E6"]}, "legend": null}}},
        {"data": {"values": [{"x": 0.0545, "y": -42.58, "t": "th", "c": 10}, {"x": 0.0315, "y": -45.26, "t": "st", "c": 1}]},
         "mark": {"type": "text", "align": "left", "baseline": "middle", "fontSize": 14},
         "encoding": {"text": {"field": "t"}, "color": {"field": "c", "type": "ordinal", "scale": {"domain": [1,2,3,4,5,6,7,8,9,10], "range": ["#F7851A","#EE861F","#CF8A3E","#AE8B5E","#928C76","#7A9090","#6295AA","#4A9AC6","#2E9EDD","#1AA0E6"]}, "legend": null}}},
        {"data": {"values": [{"x": 0.031, "y": -45.09, "y2": -43.0}]}, "mark": {"type": "rule", "color": "#000000", "strokeWidth": 2}, "encoding": {"y2": {"field": "y2"}}},
        {"data": {"values": [{"x": 0.031, "y": -42.97}]}, "mark": {"type": "point", "shape": "M-0.5,1L0,-1L0.5,1Z", "filled": true, "color": "#000000", "size": 180, "opacity": 1}, "encoding": {}}
      ]
    }
  ],
  "spacing": 0
},
{
  "hconcat": [
    {"width": 1, "height": 1, "data": {"values": [{"t": ""}]}, "mark": "text", "encoding": {"text": {"field": "t"}}, "view": {"stroke": null}},
    {
      "width": 450, "height": 345,
      "title": {"text": "c", "dx": -106, "offset": 0},
      "encoding": {
        "x": {"field": "x", "type": "quantitative", "scale": {"domain": [0, 2.95], "nice": false, "zero": false},
              "axis": {"title": "sqrt(V) (V¹ᐟ²)", "titlePadding": 14, "values": [0, 0.25, 0.5, 0.75, 1, 1.25, 1.5, 1.75, 2, 2.25, 2.5, 2.75], "labelExpr": "indexof([0, 0.5, 1, 1.5, 2, 2.5], datum.value) >= 0 ? format(datum.value, '.1f') : ''"}},
        "y": {"field": "y", "type": "quantitative", "scale": {"domain": [-54, -49.5], "nice": false, "zero": false},
              "axis": {"title": "Ln(J/T²) (A/cm²K²)", "titlePadding": 19, "values": [-54, -53.5, -53, -52.5, -52, -51.5, -51, -50.5, -50, -49.5], "labelExpr": "datum.value === round(datum.value) ? '' + datum.value : ''"}}
      },
      "layer": [
        {"data": {"name": "C"}, "mark": {"type": "line", "strokeWidth": 2.3, "clip": true},
         "encoding": {"color": {"field": "c", "type": "ordinal", "scale": {"domain": [1,2,3,4,5,6,7,8,9,10], "range": ["#F7851A","#EE861F","#CF8A3E","#AE8B5E","#928C76","#7A9090","#6295AA","#4A9AC6","#2E9EDD","#1AA0E6"]}, "legend": null}}},
        {"data": {"values": [{"x": 0.463, "y": -49.96, "t": "Positive"}, {"x": 1.139, "y": -49.96, "t": "Thermionic emission"}]},
         "mark": {"type": "text", "align": "left", "baseline": "middle", "fontSize": 19.5, "color": "#1a1a1a"}, "encoding": {"text": {"field": "t"}}},
        {"data": {"values": [{"x": 2.738, "y": -50.13, "t": "10", "c": 10}, {"x": 2.77, "y": -52.95, "t": "1", "c": 1}]},
         "mark": {"type": "text", "align": "left", "baseline": "middle", "fontSize": 21},
         "encoding": {"text": {"field": "t"}, "color": {"field": "c", "type": "ordinal", "scale": {"domain": [1,2,3,4,5,6,7,8,9,10], "range": ["#F7851A","#EE861F","#CF8A3E","#AE8B5E","#928C76","#7A9090","#6295AA","#4A9AC6","#2E9EDD","#1AA0E6"]}, "legend": null}}},
        {"data": {"values": [{"x": 2.89, "y": -50.04, "t": "th", "c": 10}, {"x": 2.868, "y": -52.86, "t": "st", "c": 1}]},
         "mark": {"type": "text", "align": "left", "baseline": "middle", "fontSize": 14},
         "encoding": {"text": {"field": "t"}, "color": {"field": "c", "type": "ordinal", "scale": {"domain": [1,2,3,4,5,6,7,8,9,10], "range": ["#F7851A","#EE861F","#CF8A3E","#AE8B5E","#928C76","#7A9090","#6295AA","#4A9AC6","#2E9EDD","#1AA0E6"]}, "legend": null}}},
        {"data": {"values": [{"x": 2.822, "y": -52.54, "y2": -50.42}]}, "mark": {"type": "rule", "color": "#000000", "strokeWidth": 2}, "encoding": {"y2": {"field": "y2"}}},
        {"data": {"values": [{"x": 2.822, "y": -50.39}]}, "mark": {"type": "point", "shape": "M-0.5,1L0,-1L0.5,1Z", "filled": true, "color": "#000000", "size": 180, "opacity": 1}, "encoding": {}}
      ]
    }
  ],
  "spacing": 0
}
],
"spacing": 5
}
